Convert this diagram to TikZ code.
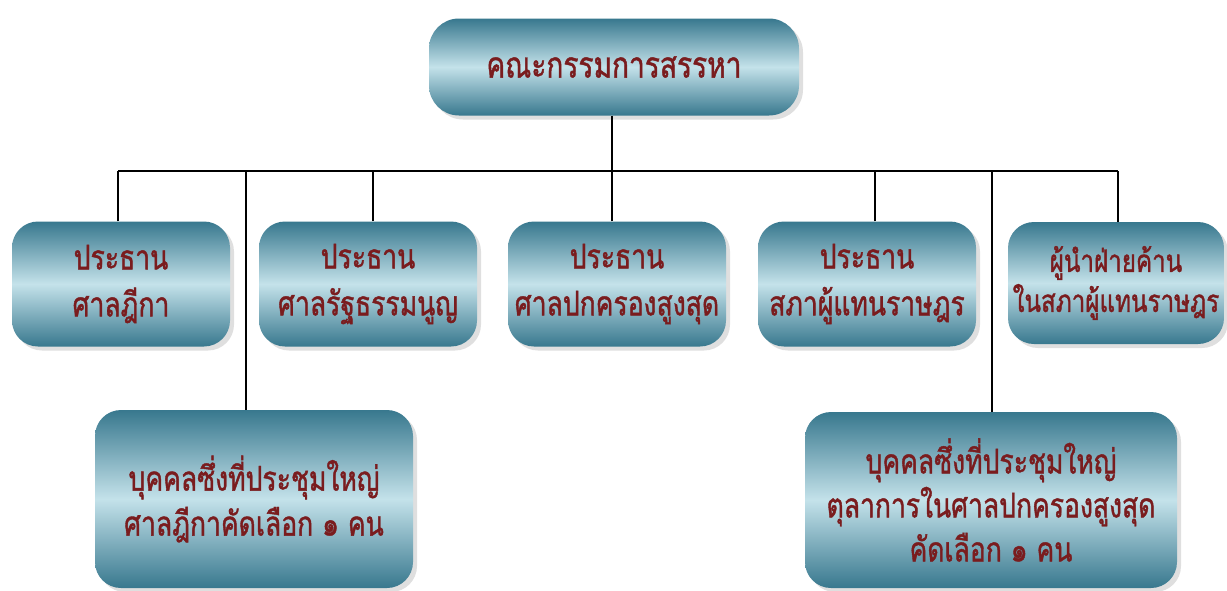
\documentclass[tikz,border=0pt]{standalone}
\usepackage{fontspec}
\newfontfamily\thai[Script=Thai, FakeStretch=0.78, FakeBold=1.2]{Loma}
\usetikzlibrary{shadows}
\definecolor{tealdark}{RGB}{56,120,142}
\definecolor{teallight}{RGB}{196,226,234}
\definecolor{txtred}{RGB}{122,28,30}
\tikzset{
  box/.style={rounded corners=26pt, top color=tealdark, bottom color=tealdark, middle color=teallight,
    draw=none, align=center, text=txtred, inner sep=0pt,
    drop shadow={opacity=0.25, shadow xshift=4pt, shadow yshift=-4pt},
    font=\thai\fontsize{34}{47}\selectfont},
  conn/.style={draw=black, line width=1.6pt}
}
\begin{document}
\begin{tikzpicture}[x=1pt,y=-1pt]
\useasboundingbox[fill=white] (0,0) rectangle (1227,590);
\node[box, minimum width=370pt, minimum height=97pt, rounded corners=30pt,
      font=\thai\fontsize{36}{40}\selectfont] (top) at (614,67) {คณะกรรมการสรรหา};
\node[box, minimum width=218pt, minimum height=125pt] (b1) at (121,284) {ประธาน\\ศาลฎีกา};
\node[box, minimum width=218pt, minimum height=125pt] (b2) at (368,284) {ประธาน\\ศาลรัฐธรรมนูญ};
\node[box, minimum width=218pt, minimum height=125pt] (b3) at (617,284) {ประธาน\\ศาลปกครองสูงสุด};
\node[box, minimum width=218pt, minimum height=125pt] (b4) at (867,284) {ประธาน\\สภาผู้แทนราษฎร};
\node[box, minimum width=216pt, minimum height=122pt, font=\thai\fontsize{31}{40}\selectfont] (b5) at (1116,283) {ผู้นำฝ่ายค้าน\\ในสภาผู้แทนราษฎร};
\node[box, minimum width=318pt, minimum height=178pt, font=\thai\fontsize{34}{45}\selectfont] (bl) at (254,499) {บุคคลซึ่งที่ประชุมใหญ่\\ศาลฎีกาคัดเลือก ๑ คน};
\node[box, minimum width=372pt, minimum height=176pt, font=\thai\fontsize{34}{44}\selectfont] (br) at (991,500) {บุคคลซึ่งที่ประชุมใหญ่\\ตุลาการในศาลปกครองสูงสุด\\คัดเลือก ๑ คน};
\coordinate (busL) at (118,171);
\coordinate (busR) at (1118,171);
\draw[conn] (busL) -- (busR);
\draw[conn] ([xshift=-2pt]top.south) -- ([xshift=-2pt]top.south |- busL);
\draw[conn] ([xshift=-3pt]b1.north) -- ([xshift=-3pt]b1.north |- busL);
\draw[conn] ([xshift=5pt]b2.north) -- ([xshift=5pt]b2.north |- busL);
\draw[conn] ([xshift=-5pt]b3.north) -- ([xshift=-5pt]b3.north |- busL);
\draw[conn] ([xshift=8pt]b4.north) -- ([xshift=8pt]b4.north |- busL);
\draw[conn] ([xshift=2pt]b5.north) -- ([xshift=2pt]b5.north |- busL);
\draw[conn] ([xshift=-8pt]bl.north) -- ([xshift=-8pt]bl.north |- busL);
\draw[conn] ([xshift=1pt]br.north) -- ([xshift=1pt]br.north |- busL);
\end{tikzpicture}
\end{document}
